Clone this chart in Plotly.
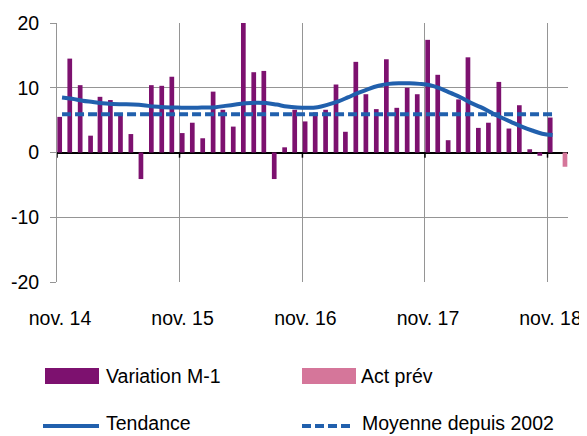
import pandas as pd
import plotly.graph_objects as go

FONT = "Liberation Sans, Arial, sans-serif"
FS = 19.5
PURPLE = "#7d116f"
PINK = "#d5769a"
BLUE = "#2160ad"
GRID = "#959595"

# monthly values, nov. 14 -> nov. 18 (x = middle of each month)
months = pd.date_range("2014-11-01", periods=49, freq="MS") + pd.Timedelta(days=15)

variation = [5.5, 14.5, 10.4, 2.6, 8.6, 8.1, 5.7, 2.85, -4.1, 10.4, 10.3, 11.7,
             3.0, 4.6, 2.2, 9.4, 6.6, 4.0, 20.0, 12.4, 12.6, -4.1, 0.8, 6.6,
             4.8, 6.2, 6.6, 10.5, 3.2, 14.0, 9.0, 6.7, 14.4, 6.9, 10.0, 9.0,
             17.4, 12.0, 1.9, 8.2, 14.7, 3.8, 4.6, 10.9, 3.7, 7.3, 0.5, -0.5, 5.4]

tendance = [8.5, 8.3, 8.0, 7.8, 7.6, 7.5, 7.45, 7.4, 7.3, 7.1, 7.0, 6.95,
            6.9, 6.9, 6.95, 7.0, 7.2, 7.4, 7.6, 7.7, 7.65, 7.4, 7.1, 6.95,
            6.9, 7.0, 7.4, 7.9, 8.5, 9.2, 9.8, 10.3, 10.6, 10.7, 10.7, 10.6,
            10.4, 9.9, 9.2, 8.5, 7.7, 7.0, 6.2, 5.4, 4.7, 4.0, 3.4, 2.9, 2.7]

act_prev_x = ["2018-12-16"]
act_prev = [-2.2]

moyenne_x = [months[0], months[-1]]
moyenne = [5.9, 5.9]

tick_dates = ["2014-11-01", "2015-11-01", "2016-11-01", "2017-11-01", "2018-11-01"]
tick_text = ["nov. 14", "nov. 15", "nov. 16", "nov. 17", "nov. 18"]
y_ticks = [-20, -10, 0, 10, 20]
y_text = ["-20", "-10", "0", "10", "20"]

# the page puts the figure 8px in from the corner of the window (body margin)
OFF = 8
W, H = 587, 436 - OFF
ML, MT = 57 - OFF, 23 - OFF
MR = W - (568 - OFF)
MB = H - (282 - OFF)
HALF_MONTH = 14 * 86400000  # bar width in ms


def px(x):
    return (x - OFF - ML) / (W - ML - MR)


def py(y):
    return (H - MB - (y - OFF)) / (H - MT - MB)


fig = go.Figure()
# purple bar on the left half of its month, pink on the right half (Excel clustered look)
fig.add_trace(go.Bar(name="Variation M-1", x=months, y=variation, marker_color=PURPLE,
                     marker_line_width=0, width=HALF_MONTH, offset=-HALF_MONTH))
fig.add_trace(go.Bar(name="Act prév", x=act_prev_x, y=act_prev, marker_color=PINK,
                     marker_line_width=0, width=HALF_MONTH, offset=0))
fig.add_trace(go.Scatter(name="Tendance", x=months, y=tendance, mode="lines",
                         line=dict(color=BLUE, width=4, shape="spline")))
fig.add_trace(go.Scatter(name="Moyenne depuis 2002", x=moyenne_x, y=moyenne, mode="lines",
                         line=dict(color=BLUE, width=4, dash="9px,4px")))

# small black ticks on the zero line
shapes = []
for d in tick_dates:
    shapes.append(dict(type="line", xref="x", yref="y", x0=d, x1=d, y0=0, y1=-0.8,
                       line=dict(color="black", width=1.5)))

# hand made legend, two columns (positions in window pixels)
annotations = []
legend_rows = [
    (376, 375.5, [("bar", PURPLE, 45, 99, "Variation M-1", 104), ("bar", PINK, 302, 356, "Act prév", 359)]),
    (426, 423, [("line", "solid", 43, 99, "Tendance", 104), ("line", "9px,4px", 302, 353, "Moyenne depuis 2002", 360)]),
]
for yc, yt, items in legend_rows:
    for kind, style, x0, x1, label, xt in items:
        if kind == "bar":
            shapes.append(dict(type="rect", xref="paper", yref="paper", x0=px(x0), x1=px(x1),
                               y0=py(yc - 8), y1=py(yc + 8), fillcolor=style, line_width=0))
        else:
            shapes.append(dict(type="line", xref="paper", yref="paper", x0=px(x0), x1=px(x1),
                               y0=py(yc), y1=py(yc), line=dict(color=BLUE, width=4, dash=style)))
        annotations.append(dict(xref="paper", yref="paper", x=px(xt), y=py(yt), text=label,
                                showarrow=False, xanchor="left", yanchor="middle",
                                font=dict(family=FONT, size=FS, color="black")))

fig.update_layout(
    width=W, height=H,
    margin=dict(l=ML, r=MR, t=MT, b=MB, autoexpand=False),
    paper_bgcolor="white", plot_bgcolor="white",
    barmode="overlay",
    showlegend=False,
    font=dict(family=FONT, size=FS, color="black"),
    shapes=shapes, annotations=annotations,
)
fig.update_xaxes(type="date", range=["2014-11-01", "2019-01-01"],
                 tickvals=tick_dates, ticktext=tick_text, ticks="",
                 showgrid=True, gridcolor=GRID, gridwidth=1,
                 showline=False, zeroline=False, automargin=False,
                 ticklabelshift=3, ticklabelstandoff=22, ticklabeloverflow="allow")
fig.update_yaxes(range=[-20, 20], tickvals=y_ticks, ticktext=y_text,
                 showgrid=True, gridcolor=GRID, gridwidth=1,
                 showline=True, linecolor=GRID, linewidth=1,
                 ticks="outside", ticklen=6, tickcolor=GRID, automargin=False,
                 ticklabelstandoff=7,
                 zeroline=True, zerolinecolor="black", zerolinewidth=1.5)

fig.write_html("out.html")
